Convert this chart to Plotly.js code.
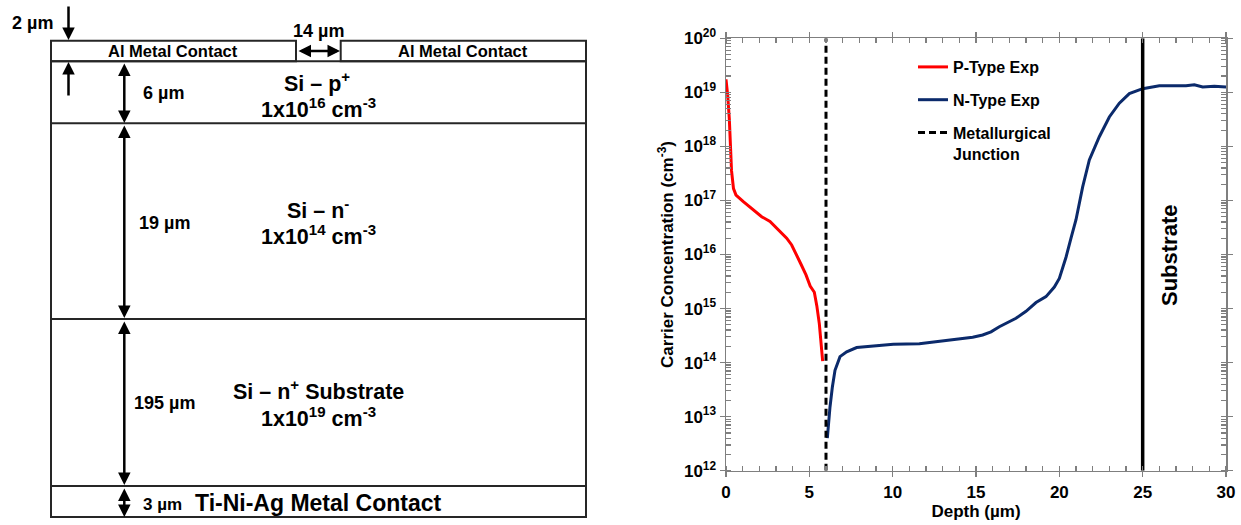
<!DOCTYPE html>
<html><head><meta charset="utf-8">
<script src="https://cdn.plot.ly/plotly-3.0.1.min.js"></script>
<style>html,body{margin:0;padding:0;background:#fff;} #chart{width:1241px;height:525px;}</style>
</head><body><div id="chart"></div>
<script>
// ---------- chart data ----------
const pDepth = [0, 0.1, 0.2, 0.33, 0.45, 0.6, 1.04, 1.54, 1.88, 2.14, 2.64, 3.24, 3.64, 3.94, 4.2, 4.5, 4.8, 5.05, 5.3, 5.45, 5.6, 5.72, 5.8];
const pConc = [1.74e19, 8.9e18, 3.2e18, 3.6e17, 1.66e17, 1.26e17, 9.5e16, 7.1e16, 5.9e16, 5.0e16, 4.1e16, 2.6e16, 2.0e16, 1.5e16, 1.05e16, 6.6e15, 4.2e15, 2.6e15, 2.0e15, 1.12e15, 5.2e14, 2.4e14, 1.07e14];
const nDepth = [6.08, 6.15, 6.24, 6.38, 6.54, 6.84, 7.24, 7.84, 8.84, 10.04, 11.6, 12.6, 13.6, 14.8, 15.4, 15.9, 16.4, 16.9, 17.4, 18.0, 18.6, 19.2, 19.7, 20.0, 20.2, 20.4, 20.7, 21.0, 21.4, 21.8, 22.4, 23.0, 23.6, 24.2, 25.0, 26.0, 27.0, 27.6, 28.1, 28.6, 29.3, 30.0];
const nConc = [4.0e12, 7.9e12, 1.51e13, 3.5e13, 7.2e13, 1.29e14, 1.58e14, 1.9e14, 2.04e14, 2.19e14, 2.24e14, 2.45e14, 2.7e14, 2.95e14, 3.24e14, 3.7e14, 4.6e14, 5.5e14, 6.6e14, 8.9e14, 1.29e15, 1.66e15, 2.5e15, 3.6e15, 5.6e15, 8.9e15, 2.0e16, 4.4e16, 1.78e17, 5.6e17, 1.51e18, 3.5e18, 6.3e18, 9.5e18, 1.17e19, 1.32e19, 1.32e19, 1.32e19, 1.38e19, 1.26e19, 1.29e19, 1.26e19];
const junctionDepth = 6;
const substrateDepth = 25;
const concRange = [1e12, 1e20];
const depthRange = [0, 30];
const xTickVals = [0, 5, 10, 15, 20, 25, 30];
const yTickVals = [1e12, 1e13, 1e14, 1e15, 1e16, 1e17, 1e18, 1e19, 1e20];
const yTickText = ['10<sup>12</sup>','10<sup>13</sup>','10<sup>14</sup>','10<sup>15</sup>','10<sup>16</sup>','10<sup>17</sup>','10<sup>18</sup>','10<sup>19</sup>','10<sup>20</sup>'];
const seriesNames = ['P-Type Exp', 'N-Type Exp', 'Metallurgical<br>Junction'];
const xTitle = 'Depth (\u00b5m)';
const yTitle = 'Carrier Concentration (cm<sup>-3</sup>)';
const substrateLabel = 'Substrate';

// ---------- device diagram labels ----------
const layerNames = ['Si \u2013 p<sup>+</sup>', 'Si \u2013 n<sup>-</sup>', 'Si \u2013 n<sup>+</sup> Substrate'];
const layerDoping = ['1x10<sup>16</sup> cm<sup>-3</sup>', '1x10<sup>14</sup> cm<sup>-3</sup>', '1x10<sup>19</sup> cm<sup>-3</sup>'];
const thicknessLabels = ['2 \u00b5m', '6 \u00b5m', '19 \u00b5m', '195 \u00b5m', '3 \u00b5m'];
const gapLabel = '14 \u00b5m';
const topContactLabel = 'Al Metal Contact';
const backContactLabel = 'Ti-Ni-Ag Metal Contact';

// ---------- helpers (pixel -> paper) ----------
const W = 1241, H = 525;
const px = x => x / W;
const py = y => 1 - y / H;
const FF = 'Liberation Sans, Arial, sans-serif';
const fnt = (s, c) => ({family: FF, size: s, color: c || '#000', weight: 'bold'});
const axisGrey = '#7f7f7f';
const edge = '#262626';

// ---------- traces ----------
const traces = [
  {x: pDepth, y: pConc, name: seriesNames[0], mode: 'lines', line: {color: '#ff0000', width: 3}, legendgroup: 'a'},
  {x: nDepth, y: nConc, name: seriesNames[1], mode: 'lines', line: {color: '#0b2a6b', width: 3}, legendgroup: 'b'},
  {x: [junctionDepth, junctionDepth], y: concRange, name: seriesNames[2], mode: 'lines', line: {color: '#000', width: 3, dash: '7px,4px'}, legendgroup: 'c'},
  {x: [substrateDepth, substrateDepth], y: concRange, mode: 'lines', line: {color: '#000', width: 3.5}, showlegend: false, hoverinfo: 'skip'}
];

// ---------- diagram shapes ----------
const L = 51, R = 586;
const yAlTop = 40.7, yAlBot = 61.3, yPN = 123.3, yNN = 319, yNM = 486, yBot = 517;
const shapes = [
  {type: 'rect', xref: 'paper', yref: 'paper', x0: px(L), x1: px(296), y0: py(yAlTop), y1: py(yAlBot), line: {color: edge, width: 2}},
  {type: 'rect', xref: 'paper', yref: 'paper', x0: px(340.7), x1: px(R), y0: py(yAlTop), y1: py(yAlBot), line: {color: edge, width: 2}},
  {type: 'rect', xref: 'paper', yref: 'paper', x0: px(L), x1: px(R), y0: py(yAlBot), y1: py(yBot), line: {color: edge, width: 2}},
  {type: 'line', xref: 'paper', yref: 'paper', x0: px(L), x1: px(R), y0: py(yPN), y1: py(yPN), line: {color: edge, width: 2}},
  {type: 'line', xref: 'paper', yref: 'paper', x0: px(L), x1: px(R), y0: py(yNN), y1: py(yNN), line: {color: edge, width: 2}},
  {type: 'line', xref: 'paper', yref: 'paper', x0: px(L), x1: px(R), y0: py(yNM), y1: py(yNM), line: {color: edge, width: 2}}
];

function txt(x, y, t, s, extra) {
  return Object.assign({xref: 'paper', yref: 'paper', x: px(x), y: py(y), text: t, showarrow: false, font: fnt(s), xanchor: 'center', yanchor: 'middle'}, extra || {});
}
function arrow(x, yHead, dx, dy, both) {
  return {xref: 'paper', yref: 'paper', x: px(x), y: py(yHead), ax: dx, ay: dy, text: '', showarrow: true,
          arrowhead: 2, arrowsize: 1, arrowwidth: 2.5, arrowcolor: '#000', standoff: 0, startstandoff: 0,
          arrowside: both ? 'end+start' : 'end', startarrowhead: 2, startarrowsize: 1};
}

const annotations = [
  // diagram text
  txt(32, 23, thicknessLabels[0], 18),
  txt(318, 31, gapLabel, 18),
  txt(173, 51, topContactLabel, 16.5),
  txt(463, 51, topContactLabel, 16.5),
  txt(163, 93, thicknessLabels[1], 18),
  txt(164, 223, thicknessLabels[2], 18),
  txt(164, 403, thicknessLabels[3], 18),
  txt(162, 504, thicknessLabels[4], 17),
  txt(317, 82, layerNames[0], 21.5),
  txt(318, 108, layerDoping[0], 21.5),
  txt(318, 209, layerNames[1], 21.5),
  txt(318, 235, layerDoping[1], 21.5),
  txt(318, 390, layerNames[2], 21.5),
  txt(318, 417, layerDoping[2], 21.5),
  txt(319, 503, backContactLabel, 23),
  // diagram arrows
  arrow(68.5, 40, 0, -35, false),
  arrow(68.5, 62, 0, 35, false),
  arrow(124.3, 123, 0, -61, true),
  arrow(124.3, 318, 0, -194, true),
  arrow(124.3, 485, 0, -165, true),
  arrow(124.3, 517, 0, -30, true),
  arrow(340, 51, -43, 0, true),
  // chart label
  txt(1169, 256, substrateLabel, 22, {textangle: -90})
];

const layout = {
  width: W, height: H,
  margin: {l: 0, r: 0, t: 0, b: 0},
  paper_bgcolor: '#fff', plot_bgcolor: 'rgba(0,0,0,0)',
  showlegend: true,
  legend: {x: px(913), y: py(50), xanchor: 'left', yanchor: 'top', font: fnt(16), bgcolor: 'rgba(0,0,0,0)',
           tracegroupgap: 9, valign: 'top', itemwidth: 30, traceorder: 'grouped'},
  xaxis: {domain: [px(726), px(1226)], range: depthRange, anchor: 'y',
          tickmode: 'array', tickvals: xTickVals, ticks: 'outside', ticklen: 5, tickwidth: 1.5, tickcolor: axisGrey,
          minor: {ticks: 'inside', ticklen: 5, dtick: 1, tickwidth: 1.2, tickcolor: axisGrey, showgrid: false},
          showline: true, linecolor: axisGrey, linewidth: 1.5, mirror: 'allticks', showgrid: false, zeroline: false,
          tickfont: fnt(17), title: {text: xTitle, font: fnt(17), standoff: 4}},
  yaxis: {domain: [py(470.7), py(38.3)], type: 'log', range: [12, 20], anchor: 'x',
          tickmode: 'array', tickvals: yTickVals, ticktext: yTickText, ticks: 'outside', ticklen: 5, tickwidth: 1.5, tickcolor: axisGrey,
          minor: {ticks: 'inside', ticklen: 5, dtick: 'D1', tickwidth: 1.2, tickcolor: axisGrey, showgrid: false},
          showline: true, linecolor: axisGrey, linewidth: 1.5, mirror: 'allticks', showgrid: false, zeroline: false,
          tickfont: fnt(17), title: {text: yTitle, font: fnt(17), standoff: 6}},
  shapes: shapes,
  annotations: annotations
};

Plotly.newPlot('chart', traces, layout, {staticPlot: true, displayModeBar: false});
</script>
</body></html>
